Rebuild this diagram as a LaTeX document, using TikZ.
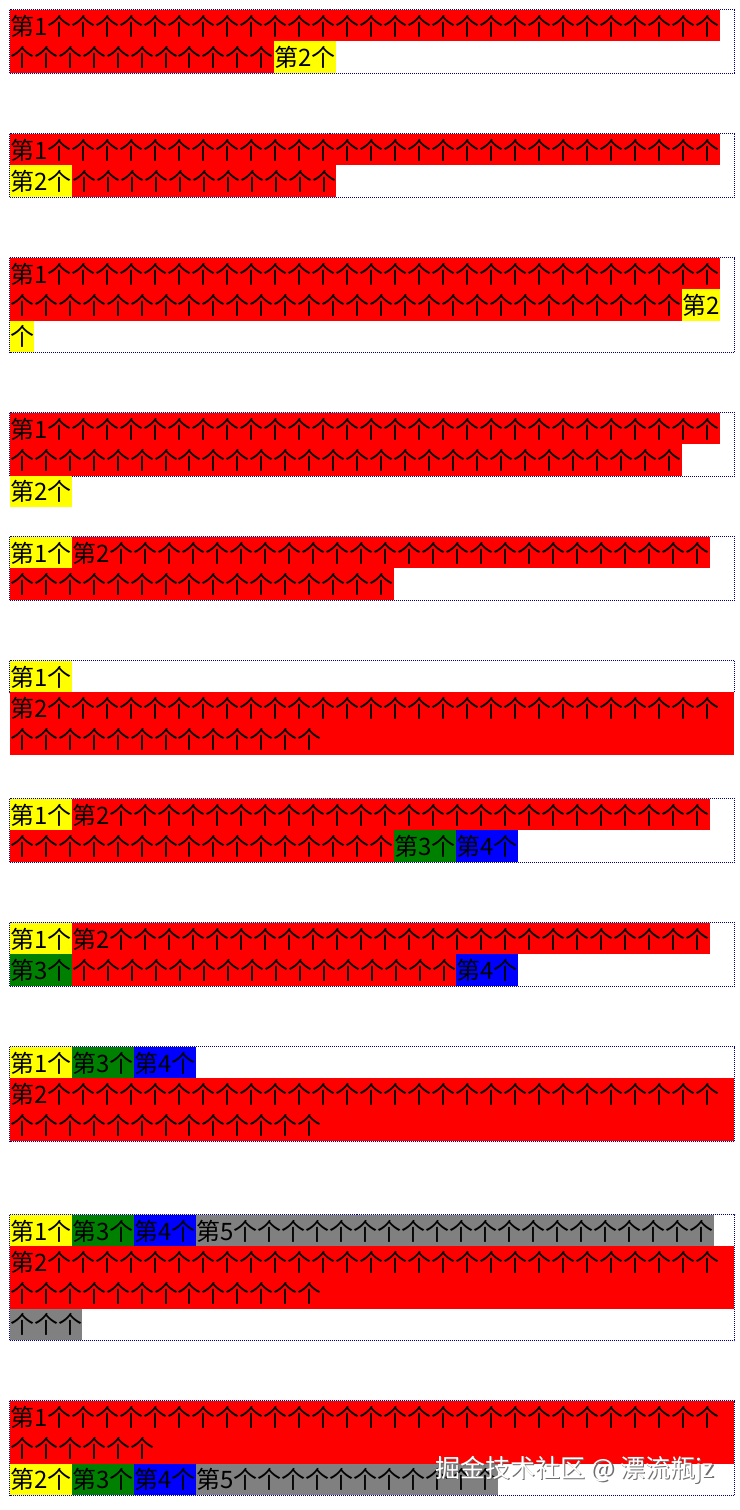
\documentclass[tikz,border=0pt]{standalone}
\usepackage{fontspec}
\setmainfont{Noto Sans CJK SC}
\usepackage{xcolor}
\definecolor{floatred}{HTML}{FF0000}
\definecolor{floatyellow}{HTML}{FFFF00}
\definecolor{floatgreen}{HTML}{008000}
\definecolor{floatblue}{HTML}{0000FF}
\definecolor{floatgray}{HTML}{808080}
\definecolor{boxline}{HTML}{000080}
\definecolor{markshade}{HTML}{6E6E6E}
\newcommand{\numw}[1]{\makebox[14pt][l]{#1}}
\newcommand{\gerep}[1]{\foreach \k in {1,...,#1}{个}}
\newcommand{\outerbox}[1]{%
  \draw[boxline, line width=1pt, dash pattern=on 1pt off 1pt] (9.5,-0.5) rectangle (734.5,#1*31.25+0.5);
}
\newcommand{\spanbox}[5]{%
  \node[cellbox, fill=#3, minimum width=#4pt, text width=#4pt] (#1) at #2 {#5};
}

\begin{document}
\begin{tikzpicture}[
  x=1pt,
  y=-1pt,
  cellbox/.style={anchor=north west, inner sep=0pt, outer sep=0pt, align=left,
    minimum height=31.25pt, text height=25pt, text depth=6.25pt,
    font=\fontsize{24pt}{31.25pt}\selectfont, text=black},
  markfont/.style={anchor=west, inner sep=0pt, font=\fontsize{25pt}{25pt}\selectfont}
]
  \useasboundingbox[fill=white] (0,0) rectangle (739,1510);

  \begin{scope}[shift={(0,10)}]
    \outerbox{2}
    \spanbox{b1a}{(10,0)}{floatred}{710}{第\numw{1}\gerep{28}}
    \spanbox{b1b}{(10,31.25)}{floatred}{264}{\gerep{11}}
    \spanbox{b1c}{(274,31.25)}{floatyellow}{62}{第\numw{2}个}
  \end{scope}

  \begin{scope}[shift={(0,134)}]
    \outerbox{2}
    \spanbox{b2a}{(10,0)}{floatred}{710}{第\numw{1}\gerep{28}}
    \spanbox{b2b}{(10,31.25)}{floatyellow}{62}{第\numw{2}个}
    \spanbox{b2c}{(72,31.25)}{floatred}{264}{\gerep{11}}
  \end{scope}

  \begin{scope}[shift={(0,258)}]
    \outerbox{3}
    \spanbox{b3a}{(10,0)}{floatred}{710}{第\numw{1}\gerep{28}}
    \spanbox{b3b}{(10,31.25)}{floatred}{672}{\gerep{28}}
    \spanbox{b3c}{(682,31.25)}{floatyellow}{38}{第\numw{2}}
    \spanbox{b3d}{(10,62.5)}{floatyellow}{24}{个}
  \end{scope}

  \begin{scope}[shift={(0,413)}]
    \outerbox{2}
    \spanbox{b4a}{(10,0)}{floatred}{710}{第\numw{1}\gerep{28}}
    \spanbox{b4b}{(10,31.25)}{floatred}{672}{\gerep{28}}
    \spanbox{b4c}{(10,62.5)}{floatyellow}{62}{第\numw{2}个}
  \end{scope}

  \begin{scope}[shift={(0,537)}]
    \outerbox{2}
    \spanbox{b5a}{(10,0)}{floatyellow}{62}{第\numw{1}个}
    \spanbox{b5b}{(72,0)}{floatred}{638}{第\numw{2}\gerep{25}}
    \spanbox{b5c}{(10,31.25)}{floatred}{384}{\gerep{16}}
  \end{scope}

  \begin{scope}[shift={(0,661)}]
    \outerbox{1}
    \spanbox{b6a}{(10,0)}{floatyellow}{62}{第\numw{1}个}
    \spanbox{b6b}{(10,31.25)}{floatred}{724}{第\numw{2}\gerep{28}}
    \spanbox{b6c}{(10,62.5)}{floatred}{724}{\gerep{13}}
  \end{scope}

  \begin{scope}[shift={(0,799)}]
    \outerbox{2}
    \spanbox{b7a}{(10,0)}{floatyellow}{62}{第\numw{1}个}
    \spanbox{b7b}{(72,0)}{floatred}{638}{第\numw{2}\gerep{25}}
    \spanbox{b7c}{(10,31.25)}{floatred}{384}{\gerep{16}}
    \spanbox{b7d}{(394,31.25)}{floatgreen}{62}{第\numw{3}个}
    \spanbox{b7e}{(456,31.25)}{floatblue}{62}{第\numw{4}个}
  \end{scope}

  \begin{scope}[shift={(0,923)}]
    \outerbox{2}
    \spanbox{b8a}{(10,0)}{floatyellow}{62}{第\numw{1}个}
    \spanbox{b8b}{(72,0)}{floatred}{638}{第\numw{2}\gerep{25}}
    \spanbox{b8c}{(10,31.25)}{floatgreen}{62}{第\numw{3}个}
    \spanbox{b8d}{(72,31.25)}{floatred}{384}{\gerep{16}}
    \spanbox{b8e}{(456,31.25)}{floatblue}{62}{第\numw{4}个}
  \end{scope}

  \begin{scope}[shift={(0,1047)}]
    \outerbox{3}
    \spanbox{b9a}{(10,0)}{floatyellow}{62}{第\numw{1}个}
    \spanbox{b9b}{(72,0)}{floatgreen}{62}{第\numw{3}个}
    \spanbox{b9c}{(134,0)}{floatblue}{62}{第\numw{4}个}
    \spanbox{b9d}{(10,31.25)}{floatred}{724}{第\numw{2}\gerep{28}}
    \spanbox{b9e}{(10,62.5)}{floatred}{724}{\gerep{13}}
  \end{scope}

  \begin{scope}[shift={(0,1215)}]
    \outerbox{4}
    \spanbox{b10a}{(10,0)}{floatyellow}{62}{第\numw{1}个}
    \spanbox{b10b}{(72,0)}{floatgreen}{62}{第\numw{3}个}
    \spanbox{b10c}{(134,0)}{floatblue}{62}{第\numw{4}个}
    \spanbox{b10d}{(196,0)}{floatgray}{518}{第\numw{5}\gerep{20}}
    \spanbox{b10e}{(10,31.25)}{floatred}{724}{第\numw{2}\gerep{28}}
    \spanbox{b10f}{(10,62.5)}{floatred}{724}{\gerep{13}}
    \spanbox{b10g}{(10,93.75)}{floatgray}{72}{\gerep{3}}
  \end{scope}

  \begin{scope}[shift={(0,1401)}]
    \outerbox{3}
    \spanbox{b11a}{(10,0)}{floatred}{724}{第\numw{1}\gerep{28}}
    \spanbox{b11b}{(10,31.25)}{floatred}{724}{\gerep{6}}
    \spanbox{b11c}{(10,62.5)}{floatyellow}{62}{第\numw{2}个}
    \spanbox{b11d}{(72,62.5)}{floatgreen}{62}{第\numw{3}个}
    \spanbox{b11e}{(134,62.5)}{floatblue}{62}{第\numw{4}个}
    \spanbox{b11f}{(196,62.5)}{floatgray}{302}{第\numw{5}\gerep{11}}
  \end{scope}

  \node[markfont, text=markshade] (markback) at (436.5,1471) {掘金技术社区 @ 漂流瓶jz};
  \node[markfont, text=white] (markfront) at (435,1469.5) {掘金技术社区 @ 漂流瓶jz};
\end{tikzpicture}
\end{document}
